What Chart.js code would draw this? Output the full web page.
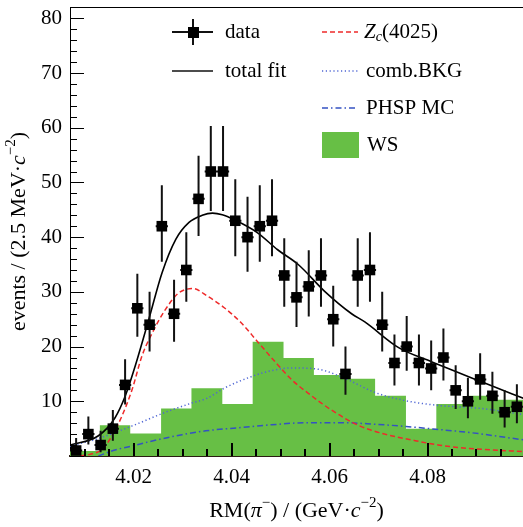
<!DOCTYPE html>
<html lang="en">
<head>
<meta charset="UTF-8">
<title>RM(pi-) fit</title>
<script src="https://cdn.jsdelivr.net/npm/chart.js"></script>
<style>
  html, body { margin: 0; padding: 0; background: #fff; }
  #wrap { width: 523px; height: 527px; }
</style>
</head>
<body>
<div id="wrap"><canvas id="c" width="523" height="527"></canvas></div>
<script>
// tick labels
const xTickVals = [4.02, 4.04, 4.06, 4.08];
const yTickVals = [10, 20, 30, 40, 50, 60, 70, 80];

// data histogram (2.5 MeV bins)
const binCenters = [4.00825, 4.01075, 4.01325, 4.01575, 4.01825, 4.02075, 4.02325, 4.02575, 4.02825, 4.03075,
  4.03325, 4.03575, 4.03825, 4.04075, 4.04325, 4.04575, 4.04825, 4.05075, 4.05325, 4.05575,
  4.05825, 4.06075, 4.06325, 4.06575, 4.06825, 4.07075, 4.07325, 4.07575, 4.07825, 4.08075,
  4.08325, 4.08575, 4.08825, 4.09075, 4.09325, 4.09575, 4.09825];
const counts = [1, 4, 2, 5, 13, 27, 24, 42, 26, 34, 47, 52, 52, 43, 40, 42, 43, 33, 29, 31,
  33, 25, 15, 33, 34, 24, 17, 20, 17, 16, 18, 12, 10, 14, 11, 8, 9];
const errUp = [2.3, 3.2, 2.6, 3.4, 4.7, 6.3, 6.0, 7.5, 6.2, 6.9, 7.9, 8.3, 8.3, 7.6, 7.4, 7.5, 7.6, 6.8, 6.5, 6.6,
  6.8, 6.1, 5.0, 6.8, 6.9, 6.0, 5.2, 5.6, 5.2, 5.1, 5.3, 4.6, 4.3, 4.8, 4.4, 4.0, 4.1];
const errDn = [0.8, 1.9, 1.3, 2.2, 3.6, 5.2, 4.9, 6.5, 5.1, 5.8, 6.8, 7.2, 7.2, 6.5, 6.3, 6.5, 6.5, 5.7, 5.4, 5.5,
  5.7, 5.0, 3.8, 5.7, 5.8, 4.9, 4.1, 4.4, 4.1, 4.0, 4.2, 3.4, 3.1, 3.7, 3.3, 2.8, 3.0];

// WS histogram
const wsEdges = [4.0068, 4.0131, 4.0193, 4.0256, 4.0318, 4.0381, 4.0443, 4.0506, 4.0568, 4.0631,
  4.0693, 4.0756, 4.0818, 4.0881, 4.0943, 4.1006];
const wsValues = [0.9, 5.6, 4.1, 8.7, 12.4, 9.5, 20.9, 17.9, 14.8, 14.1, 11.0, 5.0, 9.5, 11.0, 10.3];

// total fit
const fitX = [4.0070, 4.0128, 4.0162, 4.0183, 4.0203, 4.0231, 4.0258, 4.0286, 4.0313, 4.0340, 4.0361, 4.0381,
  4.0405, 4.0453, 4.0494, 4.0536, 4.0590, 4.0645, 4.0672, 4.0741, 4.0809, 4.0850, 4.0918, 4.1000];
const fitY = [2.0, 3.7, 7.0, 11.0, 16.4, 25.0, 33.5, 39.6, 42.7, 44.0, 44.4, 44.1,
  43.2, 40.8, 37.7, 35.0, 30.1, 26.0, 24.5, 19.8, 17.2, 15.7, 13.3, 10.4];

// Zc(4025)
const zcX = [4.0091, 4.0111, 4.0135, 4.0156, 4.0176, 4.0197, 4.0217, 4.0238, 4.0265, 4.0292, 4.0321, 4.0351,
  4.0385, 4.0419, 4.0453, 4.0487, 4.0522, 4.0556, 4.0604, 4.0659, 4.0713, 4.0775, 4.0830, 4.0898, 4.1000];
const zcY = [0.05, 0.3, 1.2, 3.7, 7.3, 12.2, 18.3, 22.5, 26.8, 29.8, 30.6, 29.2,
  27.1, 24.4, 20.9, 17.4, 14.0, 11.5, 8.4, 5.6, 4.0, 2.8, 1.9, 1.3, 0.8];

// comb.BKG
const bkgX = [4.0070, 4.0128, 4.0197, 4.0265, 4.0316, 4.0351, 4.0385, 4.0440, 4.0481, 4.0522, 4.0563, 4.0590,
  4.0638, 4.0693, 4.0756, 4.0816, 4.0919, 4.1000];
const bkgY = [1.8, 3.2, 5.5, 8.0, 9.6, 10.6, 12.4, 14.5, 15.6, 16.1, 16.0, 15.6,
  13.9, 11.6, 10.1, 9.3, 8.6, 7.5];

// PHSP MC
const phspX = [4.0128, 4.0162, 4.0200, 4.0231, 4.0299, 4.0347, 4.0419, 4.0481, 4.0556, 4.0624, 4.0693, 4.0756,
  4.0816, 4.0885, 4.1000];
const phspY = [0.0, 1.1, 1.9, 2.6, 3.9, 4.6, 5.2, 5.7, 6.1, 6.1, 5.8, 5.4, 4.9, 4.3, 2.9];

const FONT = '"Liberation Serif", "Times New Roman", serif';
const GREEN = '#67bf45';
const RED = '#ee2a2a';
const BLUE_DOT = '#4f66d4';
const BLUE_DASHDOT = '#3452c2';

function pts(xs, ys) { return xs.map((x, i) => ({ x: x, y: ys[i] })); }

const wsPts = wsValues.map((v, i) => ({ x: wsEdges[i], y: v }));
wsPts.push({ x: wsEdges[wsEdges.length - 1], y: wsValues[wsValues.length - 1] });

// draws text made of pieces (italic, super/subscript)
function richWidth(ctx, segs, size) {
  let w = 0;
  segs.forEach(s => {
    const fs = (s.sup || s.sub) ? size * 0.68 : size;
    ctx.font = (s.it ? 'italic ' : '') + fs + 'px ' + FONT;
    w += ctx.measureText(s.t).width;
  });
  return w;
}
function drawRich(ctx, segs, x, y, size, align) {
  let cx = align === 'center' ? x - richWidth(ctx, segs, size) / 2 : x;
  ctx.textBaseline = 'middle';
  ctx.textAlign = 'left';
  ctx.fillStyle = '#000';
  segs.forEach(s => {
    const fs = (s.sup || s.sub) ? size * 0.68 : size;
    ctx.font = (s.it ? 'italic ' : '') + fs + 'px ' + FONT;
    let dy = 0;
    if (s.sup) dy = -size * 0.38;
    if (s.sub) dy = size * 0.25;
    ctx.fillText(s.t, cx, y + dy);
    cx += ctx.measureText(s.t).width;
  });
}

const errorBars = {
  id: 'errorBars',
  beforeDatasetDraw(chart, args) {
    if (args.meta.label !== 'data') return;
    const { ctx, scales: { x, y } } = chart;
    ctx.save();
    ctx.strokeStyle = '#111';
    ctx.lineWidth = 2;
    ctx.beginPath();
    binCenters.forEach((c, i) => {
      const px = x.getPixelForValue(c);
      ctx.moveTo(px, y.getPixelForValue(counts[i] + errUp[i]));
      ctx.lineTo(px, y.getPixelForValue(Math.max(0, counts[i] - errDn[i])));
      const py = y.getPixelForValue(counts[i]);
      ctx.moveTo(x.getPixelForValue(c - 0.00125), py);
      ctx.lineTo(x.getPixelForValue(c + 0.00125), py);
    });
    ctx.stroke();
    ctx.restore();
  }
};

const frame = {
  id: 'frame',
  afterDatasetsDraw(chart) {
    const { ctx, chartArea: a, scales: { x, y } } = chart;
    ctx.save();
    ctx.strokeStyle = '#000';
    ctx.lineWidth = 1;
    ctx.beginPath();
    // top line
    ctx.moveTo(a.left, a.top + 0.5);
    ctx.lineTo(a.right, a.top + 0.5);
    // y ticks, inward
    for (let v = 0; v <= 82; v += 2) {
      const py = Math.round(y.getPixelForValue(v)) + 0.5;
      const len = v % 10 === 0 ? 14 : 7;
      ctx.moveTo(a.left, py);
      ctx.lineTo(a.left + len, py);
    }
    ctx.stroke();
    ctx.lineWidth = 2;
    ctx.beginPath();
    for (let k = 802; k <= 820; k++) {
      const v = k * 0.005;
      if (v < x.min || v > x.max) continue;
      const px = Math.round(x.getPixelForValue(v));
      const len = k % 4 === 0 ? 13 : 7;
      ctx.moveTo(px, a.bottom);
      ctx.lineTo(px, a.bottom - len);
    }
    ctx.stroke();
    ctx.restore();
  },
  afterDraw(chart) {
    const { ctx, chartArea: a } = chart;
    ctx.save();
    // axis titles
    drawRich(ctx, [{ t: 'RM(' }, { t: 'π', it: true }, { t: '−', sup: true }, { t: ') / (GeV·' },
      { t: 'c', it: true }, { t: '−2', sup: true }, { t: ')' }], (a.left + a.right) / 2, 511, 22, 'center');
    ctx.save();
    ctx.translate(19, (a.top + a.bottom) / 2);
    ctx.rotate(-Math.PI / 2);
    drawRich(ctx, [{ t: 'events / (2.5 MeV·' }, { t: 'c', it: true }, { t: '−2', sup: true }, { t: ')' }],
      0, 0, 22, 'center');
    ctx.restore();

    // legend
    ctx.lineWidth = 2;
    ctx.strokeStyle = '#111';
    ctx.beginPath();
    ctx.moveTo(172, 32); ctx.lineTo(213, 32);
    ctx.moveTo(193, 19); ctx.lineTo(193, 45);
    ctx.stroke();
    ctx.fillStyle = '#000';
    ctx.fillRect(188, 27, 11, 11);
    ctx.lineWidth = 1.5;
    ctx.beginPath();
    ctx.moveTo(172, 71); ctx.lineTo(213, 71);
    ctx.stroke();

    ctx.strokeStyle = RED;
    ctx.setLineDash([5, 3]);
    ctx.beginPath(); ctx.moveTo(322, 32); ctx.lineTo(358, 32); ctx.stroke();
    ctx.strokeStyle = BLUE_DOT;
    ctx.setLineDash([1.2, 2.6]);
    ctx.beginPath(); ctx.moveTo(322, 71); ctx.lineTo(358, 71); ctx.stroke();
    ctx.strokeStyle = BLUE_DASHDOT;
    ctx.setLineDash([6, 3, 1.5, 3]);
    ctx.beginPath(); ctx.moveTo(322, 108); ctx.lineTo(358, 108); ctx.stroke();
    ctx.setLineDash([]);
    ctx.fillStyle = GREEN;
    ctx.fillRect(322, 132, 37, 26);

    drawRich(ctx, [{ t: 'data' }], 225, 32, 21);
    drawRich(ctx, [{ t: 'total fit' }], 225, 71, 21);
    drawRich(ctx, [{ t: 'Z', it: true }, { t: 'c', it: true, sub: true }, { t: '(4025)' }], 364, 32, 21);
    drawRich(ctx, [{ t: 'comb.BKG' }], 366, 71, 21);
    drawRich(ctx, [{ t: 'PHSP MC' }], 366, 108, 21);
    drawRich(ctx, [{ t: 'WS' }], 367, 145, 21);
    ctx.restore();
  }
};

new Chart(document.getElementById('c'), {
  type: 'scatter',
  data: {
    datasets: [
      {
        label: 'data', data: pts(binCenters, counts), order: 0,
        pointStyle: 'rect', pointRadius: 7.5, pointBackgroundColor: '#000', pointBorderWidth: 0
      },
      {
        label: 'total fit', type: 'line', data: pts(fitX, fitY), order: 1,
        borderColor: '#000', borderWidth: 1.6, pointRadius: 0, cubicInterpolationMode: 'monotone', fill: false
      },
      {
        label: 'Zc(4025)', type: 'line', data: pts(zcX, zcY), order: 2,
        borderColor: RED, borderWidth: 1.5, borderDash: [5, 3], pointRadius: 0,
        cubicInterpolationMode: 'monotone', fill: false
      },
      {
        label: 'comb.BKG', type: 'line', data: pts(bkgX, bkgY), order: 3,
        borderColor: BLUE_DOT, borderWidth: 1.5, borderDash: [1.2, 2.6], pointRadius: 0,
        cubicInterpolationMode: 'monotone', fill: false
      },
      {
        label: 'PHSP MC', type: 'line', data: pts(phspX, phspY), order: 4,
        borderColor: BLUE_DASHDOT, borderWidth: 1.5, borderDash: [6, 3, 1.5, 3], pointRadius: 0,
        cubicInterpolationMode: 'monotone', fill: false
      },
      {
        label: 'WS', type: 'line', data: wsPts, order: 5, stepped: 'before',
        borderColor: GREEN, borderWidth: 0, backgroundColor: GREEN, fill: 'origin', pointRadius: 0
      }
    ]
  },
  options: {
    responsive: false,
    devicePixelRatio: 1,
    animation: false,
    layout: { autoPadding: false, padding: { top: 7, right: 0, left: 0, bottom: 0 } },
    plugins: { legend: { display: false }, tooltip: { enabled: false } },
    scales: {
      x: {
        type: 'linear', min: 4.007, max: 4.0995,
        grid: { display: false, drawTicks: false },
        border: { display: true, color: '#2b1d12', width: 2 },
        afterBuildTicks: s => { s.ticks = xTickVals.map(v => ({ value: v })); },
        afterFit: s => { s.height = 71; s.paddingLeft = 0; s.paddingRight = 0; },
        ticks: {
          color: '#000', padding: 9, maxRotation: 0, autoSkip: false,
          font: { family: FONT, size: 21 },
          callback: v => v.toFixed(2)
        }
      },
      y: {
        min: 0, max: 82.07,
        grid: { display: false, drawTicks: false },
        border: { display: true, color: '#000', width: 1 },
        afterBuildTicks: s => { s.ticks = yTickVals.map(v => ({ value: v })); },
        afterFit: s => { s.width = 70; s.paddingTop = 0; s.paddingBottom = 0; },
        ticks: {
          color: '#000', padding: 8,
          font: { family: FONT, size: 21 },
          callback: v => String(v)
        }
      }
    }
  },
  plugins: [errorBars, frame]
});
</script>
</body>
</html>
